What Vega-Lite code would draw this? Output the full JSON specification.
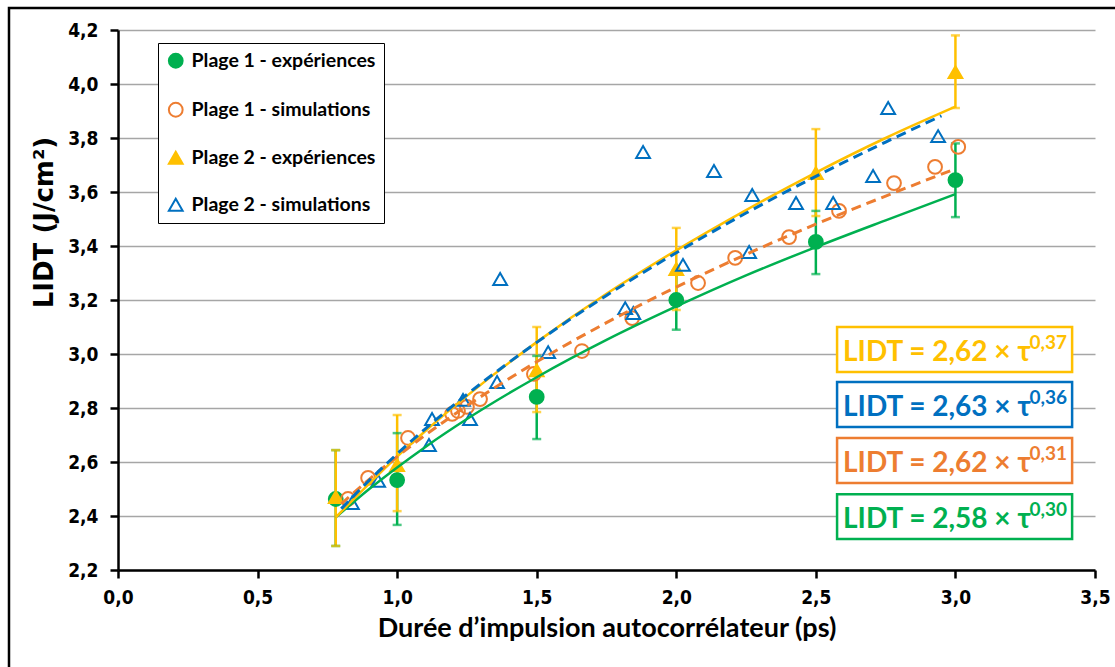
{
  "$schema": "https://vega.github.io/schema/vega-lite/v6.json",
  "width": 977,
  "height": 540,
  "autosize": {"type": "none"},
  "padding": {"left": 118, "top": 30, "right": 20, "bottom": 97},
  "background": "white",
  "config": {"view": {"stroke": null}},
  "datasets": {
    "points": [
      {"series": "Plage 1 - expériences", "x": 0.78, "y": 2.463},
      {"series": "Plage 1 - expériences", "x": 1.0, "y": 2.533},
      {"series": "Plage 1 - expériences", "x": 1.5, "y": 2.841},
      {"series": "Plage 1 - expériences", "x": 2.0, "y": 3.2},
      {"series": "Plage 1 - expériences", "x": 2.5, "y": 3.415},
      {"series": "Plage 1 - expériences", "x": 3.0, "y": 3.644},
      {"series": "Plage 1 - simulations", "x": 0.824, "y": 2.463},
      {"series": "Plage 1 - simulations", "x": 0.896, "y": 2.541},
      {"series": "Plage 1 - simulations", "x": 1.039, "y": 2.689},
      {"series": "Plage 1 - simulations", "x": 1.197, "y": 2.778},
      {"series": "Plage 1 - simulations", "x": 1.218, "y": 2.789},
      {"series": "Plage 1 - simulations", "x": 1.25, "y": 2.804},
      {"series": "Plage 1 - simulations", "x": 1.297, "y": 2.833},
      {"series": "Plage 1 - simulations", "x": 1.49, "y": 2.926},
      {"series": "Plage 1 - simulations", "x": 1.662, "y": 3.011},
      {"series": "Plage 1 - simulations", "x": 1.842, "y": 3.133},
      {"series": "Plage 1 - simulations", "x": 2.078, "y": 3.263},
      {"series": "Plage 1 - simulations", "x": 2.211, "y": 3.356},
      {"series": "Plage 1 - simulations", "x": 2.404, "y": 3.433},
      {"series": "Plage 1 - simulations", "x": 2.583, "y": 3.53},
      {"series": "Plage 1 - simulations", "x": 2.78, "y": 3.633},
      {"series": "Plage 1 - simulations", "x": 2.927, "y": 3.693},
      {"series": "Plage 1 - simulations", "x": 3.01, "y": 3.767},
      {"series": "Plage 2 - expériences", "x": 0.78, "y": 2.47},
      {"series": "Plage 2 - expériences", "x": 1.0, "y": 2.589},
      {"series": "Plage 2 - expériences", "x": 1.5, "y": 2.94},
      {"series": "Plage 2 - expériences", "x": 2.0, "y": 3.315},
      {"series": "Plage 2 - expériences", "x": 2.5, "y": 3.67},
      {"series": "Plage 2 - expériences", "x": 3.0, "y": 4.044},
      {"series": "Plage 2 - simulations", "x": 0.838, "y": 2.448},
      {"series": "Plage 2 - simulations", "x": 0.932, "y": 2.53},
      {"series": "Plage 2 - simulations", "x": 1.114, "y": 2.663},
      {"series": "Plage 2 - simulations", "x": 1.125, "y": 2.759},
      {"series": "Plage 2 - simulations", "x": 1.236, "y": 2.83},
      {"series": "Plage 2 - simulations", "x": 1.261, "y": 2.759},
      {"series": "Plage 2 - simulations", "x": 1.358, "y": 2.896},
      {"series": "Plage 2 - simulations", "x": 1.369, "y": 3.278},
      {"series": "Plage 2 - simulations", "x": 1.541, "y": 3.007},
      {"series": "Plage 2 - simulations", "x": 1.817, "y": 3.17},
      {"series": "Plage 2 - simulations", "x": 1.846, "y": 3.152},
      {"series": "Plage 2 - simulations", "x": 1.881, "y": 3.748},
      {"series": "Plage 2 - simulations", "x": 2.024, "y": 3.33},
      {"series": "Plage 2 - simulations", "x": 2.135, "y": 3.678},
      {"series": "Plage 2 - simulations", "x": 2.261, "y": 3.378},
      {"series": "Plage 2 - simulations", "x": 2.272, "y": 3.589},
      {"series": "Plage 2 - simulations", "x": 2.429, "y": 3.559},
      {"series": "Plage 2 - simulations", "x": 2.562, "y": 3.559},
      {"series": "Plage 2 - simulations", "x": 2.705, "y": 3.659},
      {"series": "Plage 2 - simulations", "x": 2.759, "y": 3.911},
      {"series": "Plage 2 - simulations", "x": 2.938, "y": 3.807}
    ],
    "errors": [
      {"series": "Plage 1 - expériences", "x": 0.78, "lo": 2.289, "hi": 2.644},
      {"series": "Plage 1 - expériences", "x": 1.0, "lo": 2.367, "hi": 2.707},
      {"series": "Plage 1 - expériences", "x": 1.5, "lo": 2.685, "hi": 2.993},
      {"series": "Plage 1 - expériences", "x": 2.0, "lo": 3.09, "hi": 3.31},
      {"series": "Plage 1 - expériences", "x": 2.5, "lo": 3.296, "hi": 3.53},
      {"series": "Plage 1 - expériences", "x": 3.0, "lo": 3.507, "hi": 3.78},
      {"series": "Plage 2 - expériences", "x": 0.78, "lo": 2.289, "hi": 2.644},
      {"series": "Plage 2 - expériences", "x": 1.0, "lo": 2.418, "hi": 2.774},
      {"series": "Plage 2 - expériences", "x": 1.5, "lo": 2.785, "hi": 3.1},
      {"series": "Plage 2 - expériences", "x": 2.0, "lo": 3.163, "hi": 3.467},
      {"series": "Plage 2 - expériences", "x": 2.5, "lo": 3.511, "hi": 3.833},
      {"series": "Plage 2 - expériences", "x": 3.0, "lo": 3.911, "hi": 4.18}
    ],
    "curves": [
      {"series": "Plage 1 - expériences", "x": 0.78, "y": 2.395},
      {"series": "Plage 1 - expériences", "x": 0.9, "y": 2.5},
      {"series": "Plage 1 - expériences", "x": 1.0, "y": 2.58},
      {"series": "Plage 1 - expériences", "x": 1.1, "y": 2.655},
      {"series": "Plage 1 - expériences", "x": 1.25, "y": 2.759},
      {"series": "Plage 1 - expériences", "x": 1.5, "y": 2.914},
      {"series": "Plage 1 - expériences", "x": 1.75, "y": 3.052},
      {"series": "Plage 1 - expériences", "x": 2.0, "y": 3.176},
      {"series": "Plage 1 - expériences", "x": 2.25, "y": 3.291},
      {"series": "Plage 1 - expériences", "x": 2.5, "y": 3.396},
      {"series": "Plage 1 - expériences", "x": 2.75, "y": 3.495},
      {"series": "Plage 1 - expériences", "x": 3.0, "y": 3.592},
      {"series": "Plage 2 - expériences", "x": 0.78, "y": 2.395},
      {"series": "Plage 2 - expériences", "x": 0.9, "y": 2.52},
      {"series": "Plage 2 - expériences", "x": 1.0, "y": 2.62},
      {"series": "Plage 2 - expériences", "x": 1.1, "y": 2.714},
      {"series": "Plage 2 - expériences", "x": 1.25, "y": 2.845},
      {"series": "Plage 2 - expériences", "x": 1.5, "y": 3.044},
      {"series": "Plage 2 - expériences", "x": 1.75, "y": 3.223},
      {"series": "Plage 2 - expériences", "x": 2.0, "y": 3.384},
      {"series": "Plage 2 - expériences", "x": 2.25, "y": 3.533},
      {"series": "Plage 2 - expériences", "x": 2.5, "y": 3.672},
      {"series": "Plage 2 - expériences", "x": 2.75, "y": 3.8},
      {"series": "Plage 2 - expériences", "x": 3.0, "y": 3.916},
      {"series": "Plage 1 - simulations", "x": 0.8, "y": 2.445},
      {"series": "Plage 1 - simulations", "x": 0.9, "y": 2.536},
      {"series": "Plage 1 - simulations", "x": 1.0, "y": 2.62},
      {"series": "Plage 1 - simulations", "x": 1.1, "y": 2.699},
      {"series": "Plage 1 - simulations", "x": 1.25, "y": 2.808},
      {"series": "Plage 1 - simulations", "x": 1.5, "y": 2.971},
      {"series": "Plage 1 - simulations", "x": 1.75, "y": 3.116},
      {"series": "Plage 1 - simulations", "x": 2.0, "y": 3.248},
      {"series": "Plage 1 - simulations", "x": 2.25, "y": 3.369},
      {"series": "Plage 1 - simulations", "x": 2.5, "y": 3.481},
      {"series": "Plage 1 - simulations", "x": 2.75, "y": 3.585},
      {"series": "Plage 1 - simulations", "x": 3.0, "y": 3.686},
      {"series": "Plage 2 - simulations", "x": 0.8, "y": 2.427},
      {"series": "Plage 2 - simulations", "x": 0.9, "y": 2.532},
      {"series": "Plage 2 - simulations", "x": 1.0, "y": 2.63},
      {"series": "Plage 2 - simulations", "x": 1.1, "y": 2.722},
      {"series": "Plage 2 - simulations", "x": 1.25, "y": 2.85},
      {"series": "Plage 2 - simulations", "x": 1.5, "y": 3.043},
      {"series": "Plage 2 - simulations", "x": 1.75, "y": 3.217},
      {"series": "Plage 2 - simulations", "x": 2.0, "y": 3.375},
      {"series": "Plage 2 - simulations", "x": 2.25, "y": 3.522},
      {"series": "Plage 2 - simulations", "x": 2.5, "y": 3.658},
      {"series": "Plage 2 - simulations", "x": 2.75, "y": 3.785},
      {"series": "Plage 2 - simulations", "x": 2.95, "y": 3.882}
    ],
    "boxes": [
      {"series": "Plage 2 - expériences", "x1": 2.576, "x2": 3.418, "y1": 3.1, "y2": 2.933, "eq": "LIDT = 2,62 × τ", "sup": "0,37"},
      {"series": "Plage 2 - simulations", "x1": 2.576, "x2": 3.418, "y1": 2.896, "y2": 2.73, "eq": "LIDT = 2,63 × τ", "sup": "0,36"},
      {"series": "Plage 1 - simulations", "x1": 2.576, "x2": 3.418, "y1": 2.689, "y2": 2.522, "eq": "LIDT = 2,62 × τ", "sup": "0,31"},
      {"series": "Plage 1 - expériences", "x1": 2.576, "x2": 3.418, "y1": 2.481, "y2": 2.315, "eq": "LIDT = 2,58 × τ", "sup": "0,30"}
    ],
    "frame": [
      {"x1": -0.3905, "x2": 3.6, "y1": 4.2815, "y2": 1.8}
    ]
  },
  "layer": [
    {
      "data": {"name": "frame"},
      "mark": {"type": "rect", "fill": null, "stroke": "black", "strokeWidth": 2.5, "clip": false},
      "encoding": {
        "x": {"field": "x1", "type": "quantitative", "scale": {"domain": [0, 3.5], "nice": false, "zero": false}, "title": "Durée d’impulsion autocorrélateur (ps)"},
        "x2": {"field": "x2"},
        "y": {"field": "y1", "type": "quantitative", "scale": {"domain": [2.2, 4.2], "nice": false, "zero": false}, "title": "LIDT (J/cm²)"},
        "y2": {"field": "y2"}
      }
    },
    {
      "data": {"name": "errors"},
      "mark": {"type": "rule", "strokeWidth": 2.5},
      "encoding": {
        "x": {"field": "x", "type": "quantitative", "title": "Durée d’impulsion autocorrélateur (ps)"},
        "y": {"field": "lo", "type": "quantitative", "title": "LIDT (J/cm²)"},
        "y2": {"field": "hi"},
        "color": {"field": "series", "type": "nominal", "legend": null,
          "scale": {"domain": ["Plage 2 - expériences", "Plage 1 - expériences", "Plage 1 - simulations", "Plage 2 - simulations"], "range": ["#ffc000", "#00b050", "#ed7d31", "#0070c0"]}}
      }
    },
    {
      "data": {"name": "errors"},
      "mark": {"type": "tick", "orient": "horizontal", "size": 9, "thickness": 2.5},
      "encoding": {
        "x": {"field": "x", "type": "quantitative", "title": "Durée d’impulsion autocorrélateur (ps)"},
        "y": {"field": "lo", "type": "quantitative", "title": "LIDT (J/cm²)"},
        "color": {"field": "series", "type": "nominal", "legend": null}
      }
    },
    {
      "data": {"name": "errors"},
      "mark": {"type": "tick", "orient": "horizontal", "size": 9, "thickness": 2.5},
      "encoding": {
        "x": {"field": "x", "type": "quantitative", "title": "Durée d’impulsion autocorrélateur (ps)"},
        "y": {"field": "hi", "type": "quantitative", "title": "LIDT (J/cm²)"},
        "color": {"field": "series", "type": "nominal", "legend": null}
      }
    },
    {
      "data": {"name": "points"},
      "mark": {"type": "point", "size": 190, "strokeWidth": 2, "opacity": 1},
      "encoding": {
        "x": {"field": "x", "type": "quantitative", "scale": {"domain": [0, 3.5], "nice": false, "zero": false},
          "title": "Durée d’impulsion autocorrélateur (ps)",
          "axis": {"values": [0, 0.5, 1, 1.5, 2, 2.5, 3, 3.5], "labelExpr": "replace(format(datum.value, '.1f'), '.', ',')",
            "grid": false, "domainColor": "black", "domainWidth": 2.5, "tickColor": "black", "tickWidth": 2.5, "tickSize": 8,
            "labelFont": "DejaVu Sans Condensed, DejaVu Sans", "labelFontWeight": "bold", "labelFontSize": 19, "labelColor": "black",
            "labelPadding": 10, "labelFlush": false, "labelOverlap": false,
            "titleFont": "Lato", "titleFontSize": 27, "titleFontWeight": "bold", "titleColor": "black", "titlePadding": 8}},
        "y": {"field": "y", "type": "quantitative", "scale": {"domain": [2.2, 4.2], "nice": false, "zero": false},
          "title": "LIDT (J/cm²)",
          "axis": {"values": [2.2, 2.4, 2.6, 2.8, 3.0, 3.2, 3.4, 3.6, 3.8, 4.0, 4.2], "labelExpr": "replace(format(datum.value, '.1f'), '.', ',')",
            "grid": true, "gridColor": "#a6a6a6", "gridWidth": 1.5, "domainColor": "black", "domainWidth": 2.5, "tickColor": "black", "tickWidth": 2.5, "tickSize": 8,
            "labelFont": "DejaVu Sans Condensed, DejaVu Sans", "labelFontWeight": "bold", "labelFontSize": 19, "labelColor": "black",
            "labelPadding": 12, "labelFlush": false, "labelOverlap": false,
            "titleFont": "DejaVu Sans", "titleFontSize": 26, "titleFontWeight": "bold", "titleColor": "black", "titlePadding": 10, "titleY": 192}},
        "stroke": {"field": "series", "type": "nominal",
          "scale": {"domain": ["Plage 1 - expériences", "Plage 1 - simulations", "Plage 2 - expériences", "Plage 2 - simulations"], "range": ["#00b050", "#ed7d31", "#ffc000", "#0070c0"]},
          "legend": {"orient": "none", "legendX": 40, "legendY": 13, "title": null, "strokeColor": "black", "fillColor": "white",
            "padding": 8, "rowPadding": 26, "labelFont": "Lato", "labelFontSize": 19.5, "labelFontWeight": "bold", "labelColor": "black",
            "labelLimit": 300, "symbolSize": 190, "symbolStrokeWidth": 2, "labelOffset": 6,
            "encode": {"legend": {"update": {"strokeWidth": {"value": 2.5}}}}}},
        "fill": {"field": "series", "type": "nominal",
          "scale": {"domain": ["Plage 1 - expériences", "Plage 1 - simulations", "Plage 2 - expériences", "Plage 2 - simulations"], "range": ["#00b050", "transparent", "#ffc000", "transparent"]}},
        "shape": {"field": "series", "type": "nominal",
          "scale": {"domain": ["Plage 1 - expériences", "Plage 1 - simulations", "Plage 2 - expériences", "Plage 2 - simulations"], "range": ["circle", "circle", "triangle-up", "triangle-up"]}}
      }
    },
    {
      "data": {"name": "curves"},
      "transform": [{"filter": "datum.series == 'Plage 1 - expériences' || datum.series == 'Plage 2 - expériences'"}],
      "mark": {"type": "line", "strokeWidth": 2.5, "interpolate": "monotone"},
      "encoding": {
        "x": {"field": "x", "type": "quantitative", "title": "Durée d’impulsion autocorrélateur (ps)"},
        "y": {"field": "y", "type": "quantitative", "title": "LIDT (J/cm²)"},
        "color": {"field": "series", "type": "nominal", "legend": null}
      }
    },
    {
      "data": {"name": "curves"},
      "transform": [{"filter": "datum.series == 'Plage 1 - simulations' || datum.series == 'Plage 2 - simulations'"}],
      "mark": {"type": "line", "strokeWidth": 3, "strokeDash": [10, 6], "interpolate": "monotone"},
      "encoding": {
        "x": {"field": "x", "type": "quantitative", "title": "Durée d’impulsion autocorrélateur (ps)"},
        "y": {"field": "y", "type": "quantitative", "title": "LIDT (J/cm²)"},
        "color": {"field": "series", "type": "nominal", "legend": null}
      }
    },
    {
      "data": {"name": "boxes"},
      "mark": {"type": "rect", "fill": "white", "strokeWidth": 2.5},
      "encoding": {
        "x": {"field": "x1", "type": "quantitative", "title": "Durée d’impulsion autocorrélateur (ps)"},
        "x2": {"field": "x2"},
        "y": {"field": "y1", "type": "quantitative", "title": "LIDT (J/cm²)"},
        "y2": {"field": "y2"},
        "stroke": {"field": "series", "type": "nominal", "legend": null}
      }
    },
    {
      "data": {"name": "boxes"},
      "mark": {"type": "text", "align": "left", "baseline": "alphabetic", "dx": 6, "dy": -11, "font": "Lato", "fontSize": 28, "fontWeight": "bold"},
      "encoding": {
        "x": {"field": "x1", "type": "quantitative", "title": "Durée d’impulsion autocorrélateur (ps)"},
        "y": {"field": "y2", "type": "quantitative", "title": "LIDT (J/cm²)"},
        "text": {"field": "eq"},
        "color": {"field": "series", "type": "nominal", "legend": null}
      }
    },
    {
      "data": {"name": "boxes"},
      "mark": {"type": "text", "align": "right", "baseline": "alphabetic", "dx": -5, "dy": -23, "font": "Lato", "fontSize": 19, "fontWeight": "bold"},
      "encoding": {
        "x": {"field": "x2", "type": "quantitative", "title": "Durée d’impulsion autocorrélateur (ps)"},
        "y": {"field": "y2", "type": "quantitative", "title": "LIDT (J/cm²)"},
        "text": {"field": "sup"},
        "color": {"field": "series", "type": "nominal", "legend": null}
      }
    }
  ]
}
